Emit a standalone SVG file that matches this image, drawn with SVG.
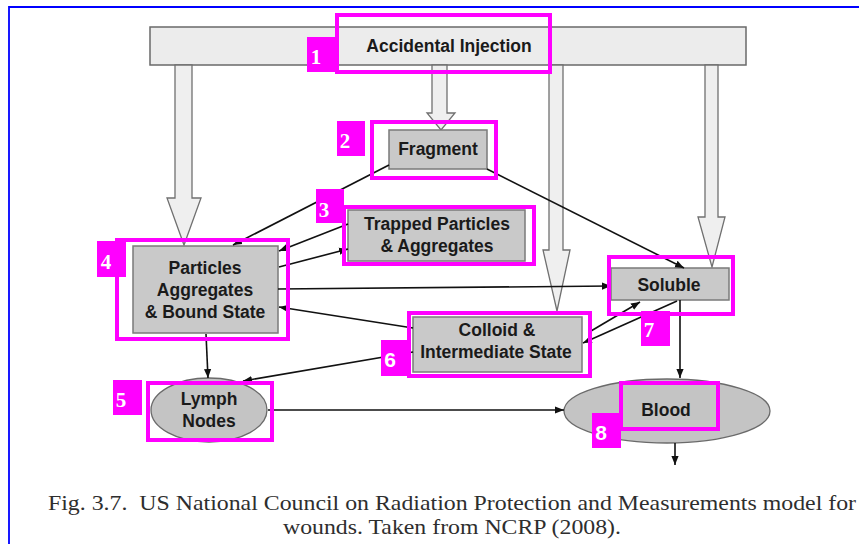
<svg xmlns="http://www.w3.org/2000/svg" width="859" height="544" viewBox="0 0 859 544">
<style>
.box{fill:#c9c9c9;stroke:#7a7a7a;stroke-width:1.5}
.ell{fill:#c4c4c4;stroke:#6a6a6a;stroke-width:1.3}
.t{font-family:"Liberation Sans",Arial,sans-serif;font-weight:bold;font-size:17.5px;fill:#1a1a1a;text-anchor:middle}
.fat{fill:#efefef;stroke:#707070;stroke-width:1.3;stroke-linejoin:miter}
.ln{stroke:#111;stroke-width:1.6;fill:none;marker-end:url(#ah)}
.mg{fill:none;stroke:#ff00ff;stroke-width:4}
.lab{fill:#ff00ff}
.d{font-family:"Liberation Serif","Times New Roman",serif;font-weight:bold;font-size:21px;fill:#fff;text-anchor:middle}
.cap{font-family:"Liberation Serif","Times New Roman",serif;font-size:21px;fill:#2e2e2e}
</style>
<defs>
<marker id="ah" viewBox="0 0 10 10" refX="10" refY="5" markerWidth="9" markerHeight="9" orient="auto" markerUnits="userSpaceOnUse">
<path d="M0,1 L10,5 L0,9 z" fill="#111"/>
</marker>
</defs>
<rect x="0" y="0" width="859" height="544" fill="#fff"/>
<path d="M9,544 L9,7 L859,7" fill="none" stroke="#0000ff" stroke-width="1.8"/>

<g id="injection">
<rect x="150" y="27" width="596" height="38" fill="#ececec" stroke="#6a6a6a" stroke-width="1.5"/>
<text class="t" x="449" y="52" font-size="18">Accidental Injection</text>
</g>

<g id="fat-arrows">
<polygon class="fat" points="175,65 192,65 192,198 201,198 184,245 167,198 175,198"/>
<polygon class="fat" points="432,65 447,65 447,113 455,113 441,130 427,113 432,113"/>
<polygon class="fat" points="549,65 563,65 563,250 570,250 557,311 543,250 549,250"/>
<polygon class="fat" points="705,65 718,65 718,217 725,217 712,267 698,217 705,217"/>
</g>

<g id="fragment">
<rect class="box" x="389" y="130" width="98" height="39"/>
<text class="t" x="438" y="155" font-size="18">Fragment</text>
</g>

<g id="trapped">
<rect class="box" x="348" y="210" width="177" height="51"/>
<text class="t" x="437" y="230" font-size="16.5">Trapped Particles</text>
<text class="t" x="437" y="252" font-size="16.5">&amp; Aggregates</text>
</g>

<g id="particles">
<rect class="box" x="133" y="246" width="145" height="87"/>
<text class="t" x="205" y="274" font-size="18">Particles</text>
<text class="t" x="205" y="296" font-size="18">Aggregates</text>
<text class="t" x="205" y="318" font-size="18">&amp; Bound State</text>
</g>

<g id="soluble">
<rect class="box" x="611" y="268" width="118" height="32"/>
<text class="t" x="669" y="291" font-size="18">Soluble</text>
</g>

<g id="colloid">
<rect class="box" x="413" y="317" width="169" height="55"/>
<text class="t" x="497" y="336" font-size="18">Colloid &amp;</text>
<text class="t" x="496" y="358" font-size="17">Intermediate State</text>
</g>

<g id="lymph">
<ellipse class="ell" cx="209" cy="410" rx="58" ry="32"/>
<text class="t" x="209" y="405" font-size="17.5">Lymph</text>
<text class="t" x="209" y="427" font-size="17.5">Nodes</text>
</g>

<g id="blood">
<ellipse class="ell" cx="667" cy="411" rx="103" ry="32"/>
<text class="t" x="666" y="416" font-size="18">Blood</text>
</g>

<g id="connectors">
<line class="ln" x1="389" y1="165" x2="233" y2="245"/>
<line class="ln" x1="487" y1="169" x2="684" y2="268"/>
<line class="ln" x1="348" y1="224" x2="279" y2="251"/>
<line class="ln" x1="279" y1="267" x2="348" y2="249"/>
<line class="ln" x1="278" y1="289" x2="611" y2="286"/>
<line class="ln" x1="413" y1="328" x2="279" y2="307"/>
<line class="ln" x1="413" y1="352" x2="243" y2="381"/>
<line class="ln" x1="206" y1="334" x2="208" y2="378"/>
<line class="ln" x1="591" y1="331" x2="640" y2="302"/>
<line class="ln" x1="677" y1="301" x2="583" y2="343"/>
<line class="ln" x1="680" y1="300" x2="680" y2="378"/>
<line class="ln" x1="268" y1="410" x2="564" y2="410"/>
<line class="ln" x1="675" y1="443" x2="675" y2="465"/>
</g>

<g id="annotations">
<rect class="mg" x="337" y="15" width="213" height="57"/>
<rect class="lab" x="307" y="37" width="28" height="35"/>
<text class="d" x="316" y="64">1</text>
<rect class="mg" x="372" y="122" width="124" height="56"/>
<rect class="lab" x="337" y="121" width="28" height="35"/>
<text class="d" x="345" y="148">2</text>
<rect class="mg" x="344" y="207" width="190" height="57"/>
<rect class="lab" x="316" y="189" width="28" height="34"/>
<text class="d" x="324" y="217">3</text>
<rect class="mg" x="117" y="240" width="171" height="99"/>
<rect class="lab" x="97" y="241" width="29" height="36"/>
<text class="d" x="106" y="269">4</text>
<rect class="mg" x="148" y="383" width="124" height="57"/>
<rect class="lab" x="113" y="380" width="29" height="35"/>
<text class="d" x="121" y="407">5</text>
<rect class="mg" x="409" y="313" width="181" height="63"/>
<rect class="lab" x="381" y="340" width="27" height="36"/>
<text class="d" x="390" y="367" style="font-family:'Liberation Sans',Arial,sans-serif">6</text>
<rect class="mg" x="609" y="257" width="124" height="57"/>
<rect class="lab" x="641" y="311" width="29" height="35"/>
<text class="d" x="649" y="337">7</text>
<rect class="mg" x="621" y="383" width="97" height="46"/>
<rect class="lab" x="592" y="413" width="29" height="35"/>
<text class="d" x="601" y="440" style="font-family:'Liberation Sans',Arial,sans-serif">8</text>
</g>

<g id="caption">
<text class="cap" x="48" y="510" textLength="808" lengthAdjust="spacingAndGlyphs" xml:space="preserve">Fig. 3.7.  US National Council on Radiation Protection and Measurements model for</text>
<text class="cap" x="283" y="534" textLength="338" lengthAdjust="spacingAndGlyphs">wounds. Taken from NCRP (2008).</text>
</g>
</svg>
